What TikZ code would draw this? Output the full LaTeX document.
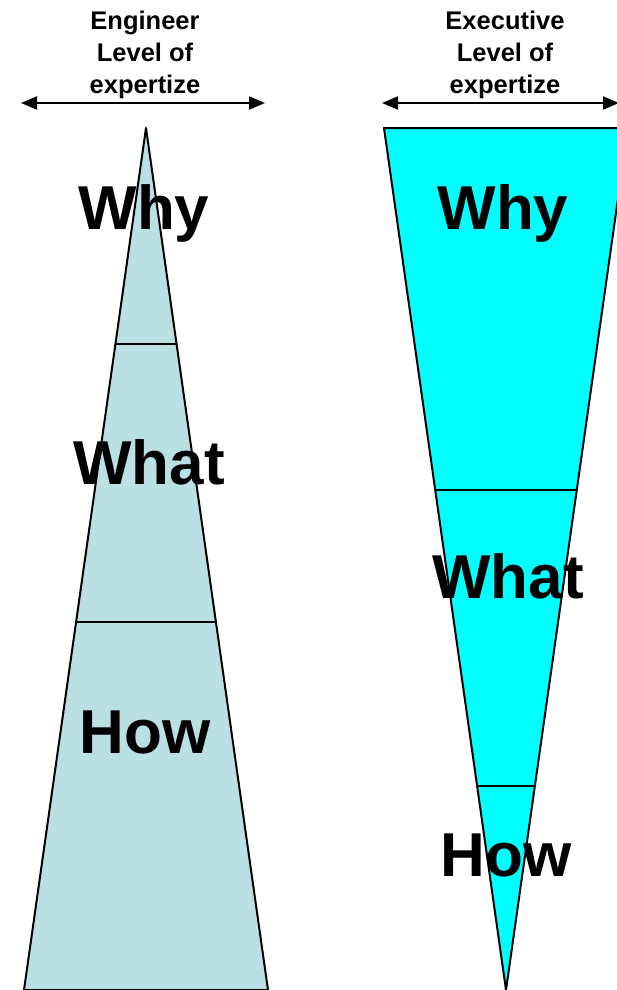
\documentclass[tikz,border=0pt]{standalone}
\usepackage{fontspec}
\setmainfont{Liberation Sans}
\usepackage{xcolor}
\usetikzlibrary{arrows.meta}
\definecolor{engfill}{HTML}{BBE0E3}
\definecolor{execfill}{HTML}{00FFFF}
\tikzset{
  levelword/.style={font=\fontsize{62}{62}\selectfont\bfseries},
  headtext/.style={font=\fontsize{25.5}{32}\selectfont\bfseries, align=center},
  spanarrow/.style={line width=2pt, {Triangle[length=16pt,width=13pt]}-{Triangle[length=16pt,width=13pt]}},
}
\begin{document}
\begin{tikzpicture}[x=1pt,y=-1pt]
        \clip (0,0) rectangle (617,990);
        \fill[white] (0,0) rectangle (617,990);
        % Engineer triangle
        \coordinate (eapex) at (146,128);
        \coordinate (ebl) at (24,990);
        \coordinate (ebr) at (268,990);
        \filldraw[fill=engfill, line width=2pt, line join=round] (eapex) -- (ebr) -- (ebl) -- cycle;
        \draw[line width=1.4pt] (115,344) -- (176,344);
        \draw[line width=1.4pt] (76,622) -- (216,622);
        % Executive triangle
        \coordinate (xtl) at (384,128);
        \coordinate (xtr) at (628,128);
        \coordinate (xapex) at (506,990);
        \filldraw[fill=execfill, line width=2pt, line join=round] (xtl) -- (xtr) -- (xapex) -- cycle;
        \draw[line width=1.4pt] (435,490) -- (577,490);
        \draw[line width=1.4pt] (476,786) -- (536,786);
        % Level words
        \node[levelword] (ewhy) at (144,213) {Why};
        \node[levelword] (ewhat) at (149,462) {What};
        \node[levelword] (ehow) at (145,732) {How};
        \node[levelword] (xwhy) at (503,213) {Why};
        \node[levelword] (xwhat) at (508,576) {What};
        \node[levelword] (xhow) at (506,855) {How};
        % Headings
        \node[headtext] (ehead) at (145,55) {Engineer\\Level of\\expertize};
        \node[headtext] (xhead) at (505,55) {Executive\\Level of\\expertize};
        % Expertise arrows
        \coordinate (eleft) at (21,103);
        \coordinate (eright) at (265,103);
        \coordinate (xleft) at (382,103);
        \coordinate (xright) at (619,103);
        \draw[spanarrow] (eleft) -- (eright);
        \draw[spanarrow] (xleft) -- (xright);
      \end{tikzpicture}
\end{document}
